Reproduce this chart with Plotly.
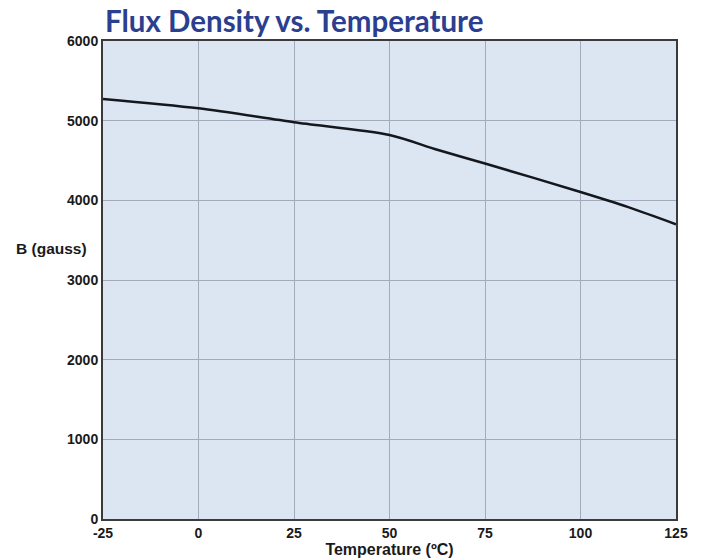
import plotly.graph_objects as go

# temperature (C) and flux density B (gauss)
temp = [-25, 0, 25, 50, 62.5, 75, 100, 112.5, 125]
flux = [5273, 5155, 4980, 4820, 4635, 4462, 4105, 3915, 3700]

x_ticks = [-25, 0, 25, 50, 75, 100, 125]
x_labels = ['-25', '0', '25', '50', '75', '100', '125']
y_ticks = [0, 1000, 2000, 3000, 4000, 5000, 6000]

tick_font = dict(family = 'Liberation Sans', size = 14, color = '#1a1a1a', weight = 'bold')

fig = go.Figure()
fig.add_trace(go.Scatter(
    x = temp, y = flux, mode = 'lines',
    line = dict(color = '#15171c', width = 2.5, shape = 'spline', smoothing = 0.8),
    showlegend = False
))

# page body adds ~8px offset, so margins are trimmed to match
fig.update_layout(
    width = 701, height = 559,
    margin = dict(l = 95, r = 33, t = 33, b = 48),
    paper_bgcolor = 'white', plot_bgcolor = '#dce5f2',
    title = dict(text = 'Flux Density vs. Temperature',
                 x = (105 - 103) / 573, xref = 'paper', xanchor = 'left',
                 y = 1 - 14 / 559, yref = 'container', yanchor = 'middle',
                 font = dict(family = 'Lato', size = 29.5, color = '#2b3f91', weight = 'bold')),
)

fig.update_xaxes(
    range = [-25, 125], tickvals = x_ticks, ticktext = x_labels, ticks = '', tickfont = tick_font,
    showgrid = True, gridcolor = '#a3aabb', gridwidth = 1, zeroline = False, automargin = False,
    showline = True, linecolor = '#3a3a3a', linewidth = 2, mirror = True,
    title = dict(text = 'Temperature (ºC)', standoff = 2,
                 font = dict(family = 'Liberation Sans', size = 16, color = '#1a1a1a', weight = 'bold'))
)
fig.update_yaxes(
    range = [0, 6000], tickvals = y_ticks, ticks = '', tickfont = tick_font,
    showgrid = True, gridcolor = '#a3aabb', gridwidth = 1, zeroline = False, automargin = False,
    showline = True, linecolor = '#3a3a3a', linewidth = 2, mirror = True
)

fig.add_annotation(
    text = 'B (gauss)', xref = 'paper', yref = 'paper',
    x = (14 - 103) / 573, y = (519 - 248) / 478, xanchor = 'left', yanchor = 'middle',
    showarrow = False, font = dict(family = 'Liberation Sans', size = 15.5, color = '#1a1a1a', weight = 'bold')
)

fig.write_html("out.html")
